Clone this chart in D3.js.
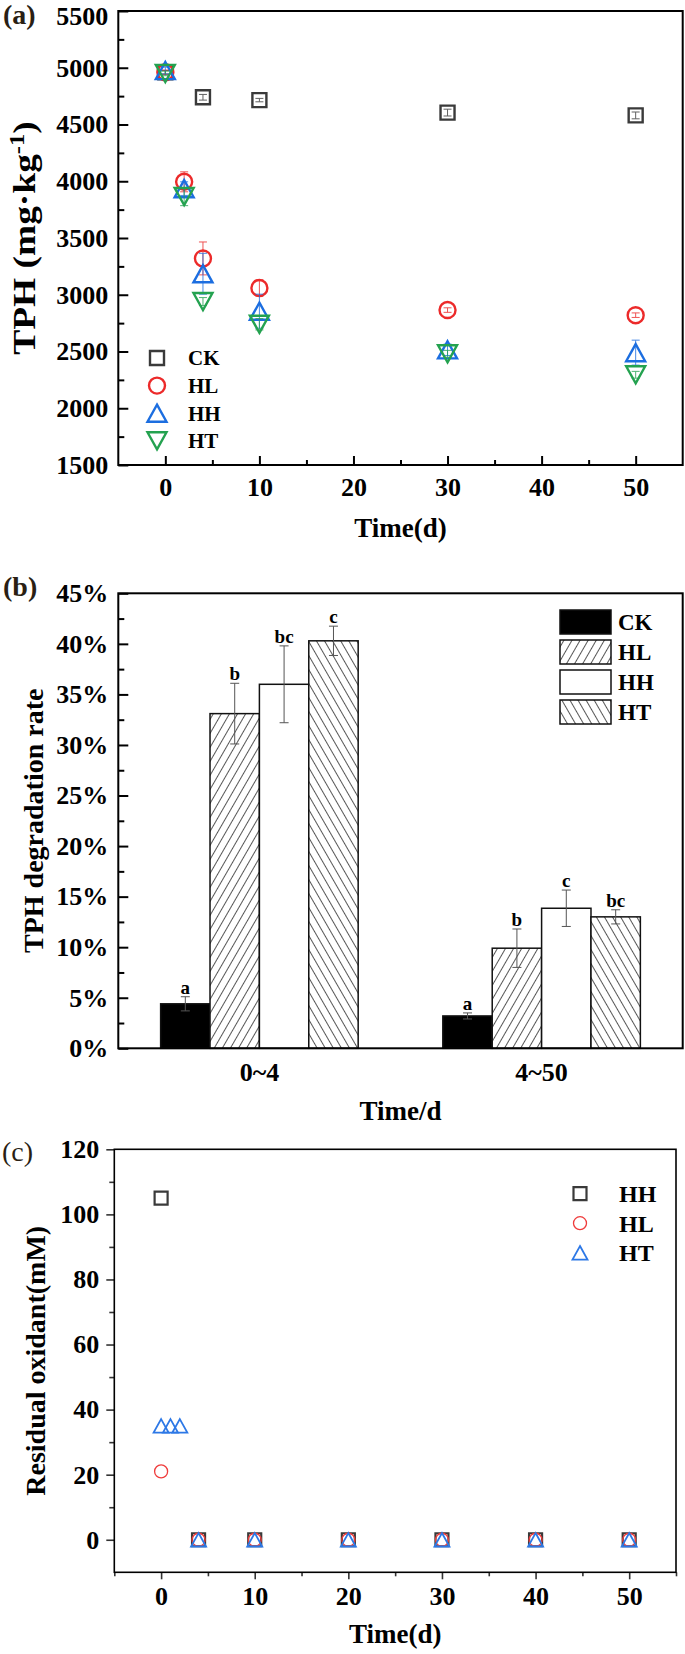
<!DOCTYPE html>
<html>
<head>
<meta charset="utf-8">
<script src="https://cdn.jsdelivr.net/npm/d3@7"></script>
<style>
  html, body { margin: 0; padding: 0; background: #fff; }
  svg { display: block; font-family: "Liberation Serif", "Times New Roman", serif; }
</style>
</head>
<body>
<svg id="fig" width="685" height="1654"></svg>
<script>
// ---- (a) TPH vs time ----
const timeA = [0, 2, 4, 10, 30, 50];
const timeCK = [0, 4, 10, 30, 50];
const tphCK = [4960, 4740, 4715, 4605, 4580];
const errCK = [15, 25, 15, 30, 30];
const tphHL = [4960, 3995, 3320, 3060, 2865, 2820];
const errHL = [20, 88, 145, 72, 20, 20];
const tphHH = [4975, 3935, 3185, 2855, 2515, 2490];
const errHH = [30, 60, 180, 150, 50, 110];
const tphHT = [4950, 3865, 2940, 2740, 2480, 2295];
const errHT = [20, 80, 35, 50, 30, 30];
const yTicksA = [1500, 2000, 2500, 3000, 3500, 4000, 4500, 5000, 5500];
const yMinorA = [1750, 2250, 2750, 3250, 3750, 4250, 4750, 5250];
const xTicks = [0, 10, 20, 30, 40, 50];
const xMinor = [5, 15, 25, 35, 45];

// ---- (b) degradation rate ----
const periods = ['0~4', '4~50'];
const treatments = ['CK', 'HL', 'HH', 'HT'];
const rate0to4 = [4.4, 33.1, 36.0, 40.3];
const err0to4 = [0.7, 3.0, 3.8, 1.45];
const rate4to50 = [3.2, 9.9, 13.85, 13.0];
const err4to50 = [0.3, 1.9, 1.8, 0.7];
const letters0to4 = ['a', 'b', 'bc', 'c'];
const letters4to50 = ['a', 'b', 'c', 'bc'];
const yTicksB = [0, 5, 10, 15, 20, 25, 30, 35, 40, 45];
const yMinorB = [2.5, 7.5, 12.5, 17.5, 22.5, 27.5, 32.5, 37.5, 42.5];

// ---- (c) residual oxidant ----
const timeC = [0, 4, 10, 20, 30, 40, 50];
const timeHTc = [0, 1, 2, 4, 10, 20, 30, 40, 50];
const oxHH = [105, 0, 0, 0, 0, 0, 0];
const oxHL = [21, 0, 0, 0, 0, 0, 0];
const oxHT = [35, 35, 35, 0, 0, 0, 0, 0, 0];
const yTicksC = [0, 20, 40, 60, 80, 100, 120];
const yMinorC = [10, 30, 50, 70, 90, 110];
const xMinorC = [-5, 5, 15, 25, 35, 45, 55];

const svg = d3.select('#fig');
const plain = d3.format('d');

function markerPath(shape, s) {
  const h = s / 2;
  if (shape === 'square') return `M${-h},${-h}H${h}V${h}H${-h}Z`;
  if (shape === 'circle') return `M${h},0A${h},${h} 0 1,1 ${-h},0A${h},${h} 0 1,1 ${h},0Z`;
  if (shape === 'up') return `M0,${-h * 0.9}L${h},${h * 0.9}L${-h},${h * 0.9}Z`;
  return `M0,${h * 0.9}L${h},${-h * 0.9}L${-h},${-h * 0.9}Z`;
}

function styleText(sel, size) {
  sel.selectAll('text')
    .attr('font-family', '"Liberation Serif", serif')
    .attr('font-size', size)
    .attr('font-weight', 'bold')
    .attr('fill', '#000');
}

function box(g, b, width) {
  g.append('rect')
    .attr('x', b.left).attr('y', b.top)
    .attr('width', b.right - b.left).attr('height', b.bottom - b.top)
    .attr('fill', 'none').attr('stroke', '#000').attr('stroke-width', width);
}

function title(g, text, x, y, rotate, size, stretch) {
  const t = g.append('text')
    .attr('transform', `translate(${x},${y})` + (rotate ? ' rotate(-90)' : '') + (stretch ? ` scale(${stretch},1)` : ''))
    .attr('text-anchor', 'middle').attr('dy', '0.35em')
    .attr('font-size', size || (rotate ? 28 : 27)).attr('font-weight', 'bold');
  return t.text(text);
}

// ================= panel (a) =================
const A = { left: 118.3, right: 682.7, top: 11, bottom: 465 };
const xa = d3.scaleLinear().domain([-5, 55]).range([A.left, A.right]);
const ya = d3.scaleLinear().domain([1500, 5500]).range([A.bottom, A.top]);
const ga = svg.append('g');

ga.append('g').attr('transform', `translate(${A.left},0)`)
  .call(d3.axisLeft(ya).tickValues(yTicksA).tickSize(-10).tickSizeOuter(0).tickPadding(10).tickFormat(plain))
  .call(s => styleText(s, 26))
  .call(s => s.selectAll('text').filter(d => d === 5500).attr('dy', '0.5em'));
ga.append('g').attr('transform', `translate(${A.left},0)`)
  .call(d3.axisLeft(ya).tickValues(yMinorA).tickSize(-6).tickSizeOuter(0).tickFormat(''));
ga.append('g').attr('transform', `translate(0,${A.bottom})`)
  .call(d3.axisBottom(xa).tickValues(xTicks).tickSize(-9).tickSizeOuter(0).tickPadding(13).tickFormat(plain))
  .call(s => styleText(s, 26));
ga.append('g').attr('transform', `translate(0,${A.bottom})`)
  .call(d3.axisBottom(xa).tickValues(xMinor).tickSize(-5).tickSizeOuter(0).tickFormat(''));
ga.selectAll('.domain').remove();
ga.selectAll('.tick line').attr('stroke', '#000').attr('stroke-width', 2);
box(ga, A, 2);

const seriesA = [
  { name: 'CK', t: timeCK, v: tphCK, e: errCK, shape: 'square', size: 14, color: '#3a3a3a' },
  { name: 'HL', t: timeA, v: tphHL, e: errHL, shape: 'circle', size: 16, color: '#ec2a2a' },
  { name: 'HH', t: timeA, v: tphHH, e: errHH, shape: 'up', size: 19, color: '#1c6ee0' },
  { name: 'HT', t: timeA, v: tphHT, e: errHT, shape: 'down', size: 19, color: '#24a250' }
];

seriesA.forEach(s => {
  const pts = s.t.map((t, i) => ({ t, v: s.v[i], e: s.e[i] }));
  const eg = ga.append('g').attr('stroke', s.color).attr('stroke-width', 1).attr('opacity', 0.8);
  pts.forEach(p => {
    eg.append('line').attr('x1', xa(p.t)).attr('x2', xa(p.t)).attr('y1', ya(p.v - p.e)).attr('y2', ya(p.v + p.e));
    [p.v - p.e, p.v + p.e].forEach(v => eg.append('line')
      .attr('x1', xa(p.t) - 4).attr('x2', xa(p.t) + 4).attr('y1', ya(v)).attr('y2', ya(v)));
  });
  ga.append('g').selectAll('path').data(pts).join('path')
    .attr('d', markerPath(s.shape, s.size))
    .attr('transform', d => `translate(${xa(d.t)},${ya(d.v)})`)
    .attr('fill', 'none').attr('stroke', s.color).attr('stroke-width', 2.4);
});

const legA = ga.append('g');
seriesA.forEach((s, i) => {
  const y = 358 + i * 27.6;
  legA.append('path').attr('d', markerPath(s.shape, s.size))
    .attr('transform', `translate(157,${y})`)
    .attr('fill', 'none').attr('stroke', s.color).attr('stroke-width', 2.4);
  legA.append('text').attr('x', 188).attr('y', y).attr('dy', '0.35em')
    .attr('font-size', 21).attr('font-weight', 'bold').text(s.name);
});

ga.append('text').attr('x', 3).attr('y', 24).attr('font-size', 28).attr('font-weight', 'bold')
  .attr('fill', '#2a1f14').text('(a)');
const ta = title(ga, '', 24, (A.top + A.bottom) / 2, true, 32, 1.17);
ta.text('TPH (mg\u00b7kg');
ta.append('tspan').attr('font-size', 21).attr('baseline-shift', 'super').text('-1');
ta.append('tspan').text(')');
title(ga, 'Time(d)', (A.left + A.right) / 2, 528, false);

// ================= panel (b) =================
const B = { left: 118.3, right: 682.7, top: 593.3, bottom: 1048.3 };
const x0 = d3.scaleBand().domain(periods).range([B.left, B.right]).paddingInner(0.3).paddingOuter(0.15);
const x1 = d3.scaleBand().domain(treatments).range([0, x0.bandwidth()]);
const yb = d3.scaleLinear().domain([0, 45]).range([B.bottom, B.top]);
const gb = svg.append('g');

const defs = svg.append('defs');
[['hatchL', 30], ['hatchR', -30]].forEach(([id, ang]) => {
  defs.append('pattern').attr('id', id).attr('patternUnits', 'userSpaceOnUse')
    .attr('width', 7).attr('height', 7).attr('patternTransform', `rotate(${ang})`)
    .call(p => p.append('rect').attr('width', 7).attr('height', 7).attr('fill', '#fff'))
    .append('line').attr('x1', 3.5).attr('x2', 3.5).attr('y1', 0).attr('y2', 7)
    .attr('stroke', '#444').attr('stroke-width', 0.9);
});
const fills = { CK: '#000', HL: 'url(#hatchL)', HH: '#fff', HT: 'url(#hatchR)' };

gb.append('g').attr('transform', `translate(${B.left},0)`)
  .call(d3.axisLeft(yb).tickValues(yTicksB).tickSize(-10).tickSizeOuter(0).tickPadding(10).tickFormat(d => d + '%'))
  .call(s => styleText(s, 26));
gb.append('g').attr('transform', `translate(${B.left},0)`)
  .call(d3.axisLeft(yb).tickValues(yMinorB).tickSize(-6).tickSizeOuter(0).tickFormat(''));
gb.append('g').attr('transform', `translate(0,${B.bottom})`)
  .call(d3.axisBottom(x0).tickSize(0).tickPadding(14))
  .call(s => styleText(s, 26));
gb.selectAll('.domain').remove();
gb.selectAll('.tick line').attr('stroke', '#000').attr('stroke-width', 2);

const barRows = [
  { period: '0~4', v: rate0to4, e: err0to4, l: letters0to4 },
  { period: '4~50', v: rate4to50, e: err4to50, l: letters4to50 }
];
barRows.forEach(r => {
  const bars = treatments.map((k, i) => ({ k, v: r.v[i], e: r.e[i], l: r.l[i] }));
  const g = gb.append('g').attr('transform', `translate(${x0(r.period)},0)`);
  g.selectAll('rect').data(bars).join('rect')
    .attr('x', d => x1(d.k)).attr('y', d => yb(d.v))
    .attr('width', x1.bandwidth()).attr('height', d => yb(0) - yb(d.v))
    .attr('fill', d => fills[d.k]).attr('stroke', '#111').attr('stroke-width', 1.5);
  bars.forEach(d => {
    const cx = x1(d.k) + x1.bandwidth() / 2;
    const eg = g.append('g').attr('stroke', '#555').attr('stroke-width', 1);
    eg.append('line').attr('x1', cx).attr('x2', cx).attr('y1', yb(d.v - d.e)).attr('y2', yb(d.v + d.e));
    [d.v - d.e, d.v + d.e].forEach(v => eg.append('line')
      .attr('x1', cx - 4.5).attr('x2', cx + 4.5).attr('y1', yb(v)).attr('y2', yb(v)));
    g.append('text').attr('x', cx).attr('y', yb(d.v + d.e) - 3).attr('text-anchor', 'middle')
      .attr('font-size', 19).attr('font-weight', 'bold').text(d.l);
  });
});
box(gb, B, 2);

const legB = gb.append('g');
treatments.forEach((k, i) => {
  const y = 610 + i * 30;
  legB.append('rect').attr('x', 560).attr('y', y).attr('width', 51).attr('height', 24)
    .attr('fill', fills[k]).attr('stroke', '#111').attr('stroke-width', 1.5);
  legB.append('text').attr('x', 618).attr('y', y + 12).attr('dy', '0.35em')
    .attr('font-size', 23).attr('font-weight', 'bold').text(k);
});

gb.append('text').attr('x', 3).attr('y', 596).attr('font-size', 28).attr('font-weight', 'bold')
  .attr('fill', '#2a1f14').text('(b)');
title(gb, 'TPH degradation rate', 33, (B.top + B.bottom) / 2, true);
title(gb, 'Time/d', (B.left + B.right) / 2, 1111, false);

// ================= panel (c) =================
const C = { left: 114.3, right: 676, top: 1149.3, bottom: 1572.3 };
const xc = d3.scaleLinear().domain([-5, 55]).range([C.left, C.right]);
const yc = d3.scaleLinear().domain([-10, 120]).range([C.bottom, C.top]);
const gc = svg.append('g');

gc.append('g').attr('transform', `translate(${C.left},0)`)
  .call(d3.axisLeft(yc).tickValues(yTicksC).tickSize(8).tickSizeOuter(0).tickPadding(7).tickFormat(plain))
  .call(s => styleText(s, 26));
gc.append('g').attr('transform', `translate(${C.left},0)`)
  .call(d3.axisLeft(yc).tickValues(yMinorC).tickSize(5).tickSizeOuter(0).tickFormat(''));
gc.append('g').attr('transform', `translate(0,${C.bottom})`)
  .call(d3.axisBottom(xc).tickValues(xTicks).tickSize(7).tickSizeOuter(0).tickPadding(7.5).tickFormat(plain))
  .call(s => styleText(s, 26));
gc.append('g').attr('transform', `translate(0,${C.bottom})`)
  .call(d3.axisBottom(xc).tickValues(xMinorC).tickSize(4).tickSizeOuter(0).tickFormat(''));
gc.selectAll('.domain').remove();
gc.selectAll('.tick line').attr('stroke', '#333').attr('stroke-width', 1.6);
box(gc, C, 1.6);

const seriesC = [
  { name: 'HH', t: timeC, v: oxHH, shape: 'square', size: 13, sw: 2.2, color: '#3a3a3a' },
  { name: 'HL', t: timeC, v: oxHL, shape: 'circle', size: 13, sw: 1.3, color: '#ef3b3b' },
  { name: 'HT', t: timeHTc, v: oxHT, shape: 'up', size: 15, sw: 1.8, color: '#2d78e6' }
];
seriesC.forEach(s => {
  const pts = s.t.map((t, i) => ({ t, v: s.v[i] }));
  gc.append('g').selectAll('path').data(pts).join('path')
    .attr('d', markerPath(s.shape, s.size))
    .attr('transform', d => `translate(${xc(d.t)},${yc(d.v)})`)
    .attr('fill', 'none').attr('stroke', s.color).attr('stroke-width', s.sw);
});
seriesC.forEach((s, i) => {
  const y = 1193.6 + i * 29.6;
  gc.append('path').attr('d', markerPath(s.shape, s.size))
    .attr('transform', `translate(580,${y})`)
    .attr('fill', 'none').attr('stroke', s.color).attr('stroke-width', s.sw);
  gc.append('text').attr('x', 619).attr('y', y).attr('dy', '0.35em')
    .attr('font-size', 24).attr('font-weight', 'bold').text(s.name);
});

gc.append('text').attr('x', 2).attr('y', 1161).attr('font-size', 28)
  .attr('fill', '#2a1f14').text('(c)');
title(gc, 'Residual oxidant(mM)', 35, (C.top + C.bottom) / 2, true);
title(gc, 'Time(d)', (C.left + C.right) / 2, 1634, false);
</script>
</body>
</html>
